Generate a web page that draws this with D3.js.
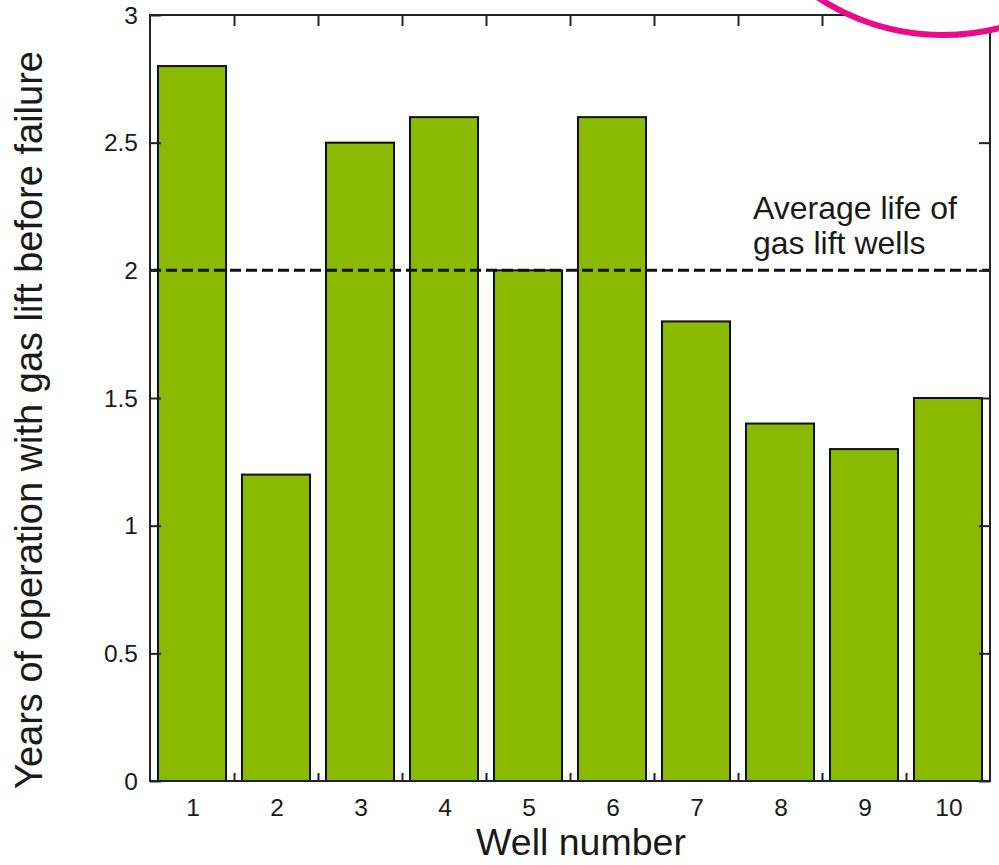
<!DOCTYPE html>
<html>
<head>
<meta charset="utf-8">
<script src="https://cdn.jsdelivr.net/npm/d3@7"></script>
<style>
  html, body { margin: 0; padding: 0; background: #fff; }
  svg { display: block; }
  text { font-family: "Liberation Sans", Arial, sans-serif; fill: #1a1a1a; }
</style>
</head>
<body>
<svg id="chart" width="999" height="865"></svg>
<script>
// ---- data ----
const wells = ["1", "2", "3", "4", "5", "6", "7", "8", "9", "10"];
const years = [2.8, 1.2, 2.5, 2.6, 2.0, 2.6, 1.8, 1.4, 1.3, 1.5];
const yTicks = [0, 0.5, 1, 1.5, 2, 2.5, 3];
const yTickLabels = ["0", "0.5", "1", "1.5", "2", "2.5", "3"];
const averageLife = [2];
const averageLabel = ["Average life of", "gas lift wells"];
const xTitle = "Well number";
const yTitle = "Years of operation with gas lift before failure";

// ---- layout ----
const L = 150, R = 990, T = 15, B = 781;
const svg = d3.select("#chart");

const x = d3.scaleBand().domain(wells).range([L, R]).paddingInner(0.19).paddingOuter(0.095);
const y = d3.scaleLinear().domain([0, 3]).range([B, T]);

// bars
svg.append("g").selectAll("rect").data(wells).join("rect")
  .attr("x", d => x(d))
  .attr("y", (d, i) => y(years[i]))
  .attr("width", x.bandwidth())
  .attr("height", (d, i) => y(0) - y(years[i]))
  .attr("fill", "#89b900")
  .attr("stroke", "#111")
  .attr("stroke-width", 2);

// average dashed line
svg.append("g").selectAll("line").data(averageLife).join("line")
  .attr("x1", L).attr("x2", R)
  .attr("y1", d => y(d)).attr("y2", d => y(d))
  .attr("stroke", "#111").attr("stroke-width", 3)
  .attr("stroke-dasharray", "11,5");

svg.append("g").selectAll("text").data(averageLabel).join("text")
  .attr("x", 753).attr("y", (d, i) => 219 + i * 35)
  .attr("font-size", 32)
  .text(d => d);

// frame
svg.append("rect").attr("x", L).attr("y", T).attr("width", R - L).attr("height", B - T)
  .attr("fill", "none").attr("stroke", "#222").attr("stroke-width", 2);

// y axes (left and right) with inward ticks
const yLeft = svg.append("g").attr("transform", `translate(${L},0)`)
  .call(d3.axisRight(y).tickValues(yTicks).tickSize(11).tickFormat(""));
const yRight = svg.append("g").attr("transform", `translate(${R},0)`)
  .call(d3.axisLeft(y).tickValues(yTicks).tickSize(11).tickFormat(""));
[yLeft, yRight].forEach(g => {
  g.select(".domain").remove();
  g.selectAll(".tick line").attr("stroke", "#222").attr("stroke-width", 2);
});

// y tick labels
svg.append("g").selectAll("text").data(yTicks).join("text")
  .attr("x", 138).attr("y", d => y(d)).attr("dy", "0.36em")
  .attr("text-anchor", "end").attr("font-size", 24.5)
  .text((d, i) => yTickLabels[i]);

// x ticks at category boundaries (top and bottom, inward)
const bounds = wells.slice(1).map(w => x(w) - x.step() * x.paddingInner() / 2);
const xBottom = svg.append("g").attr("transform", `translate(0,${B})`)
  .call(d3.axisTop(d3.scaleLinear().domain([L, R]).range([L, R])).tickValues(bounds).tickSize(8).tickFormat(""));
const xTop = svg.append("g").attr("transform", `translate(0,${T})`)
  .call(d3.axisBottom(d3.scaleLinear().domain([L, R]).range([L, R])).tickValues(bounds).tickSize(11).tickFormat(""));
[xBottom, xTop].forEach(g => {
  g.select(".domain").remove();
  g.selectAll(".tick line").attr("stroke", "#222").attr("stroke-width", 2);
});

// x tick labels
svg.append("g").selectAll("text").data(wells).join("text")
  .attr("x", d => x(d) + x.bandwidth() / 2 + 1).attr("y", 816)
  .attr("text-anchor", "middle").attr("font-size", 24.5)
  .text(d => d);

// axis titles
svg.append("text").attr("x", 581).attr("y", 855)
  .attr("text-anchor", "middle").attr("font-size", 37.5).text(xTitle);
svg.append("text")
  .attr("transform", "translate(42,420) rotate(-90)")
  .attr("text-anchor", "middle").attr("font-size", 38).text(yTitle);

// magenta highlight circle (top right, partly off-canvas)
svg.append("circle").attr("cx", 943).attr("cy", -193).attr("r", 228)
  .attr("fill", "#fff").attr("stroke", "#ea0a8c").attr("stroke-width", 6);
</script>
</body>
</html>
